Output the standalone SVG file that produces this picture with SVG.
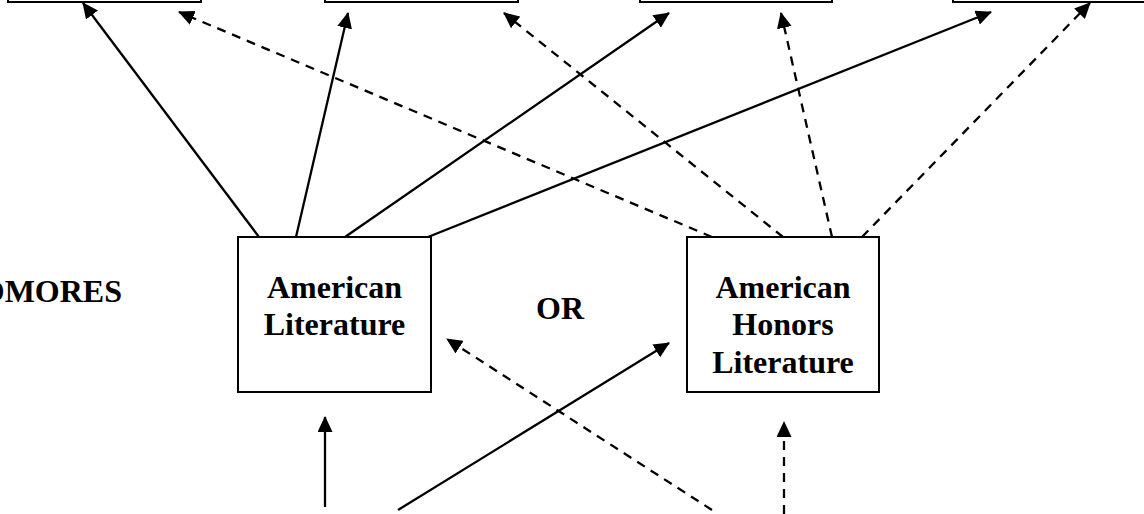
<svg xmlns="http://www.w3.org/2000/svg" width="1144" height="514" viewBox="0 0 1144 514">
<defs>
<marker id="ah" markerUnits="userSpaceOnUse" markerWidth="16" markerHeight="15" viewBox="0 0 16 15" refX="15" refY="7.5" orient="auto">
<path d="M0,0 L16,7.5 L0,15 z" fill="#000"/>
</marker>
</defs>
<style>
.box{fill:#fff;stroke:#000;stroke-width:2}
.t{font-family:"Liberation Serif","Times New Roman",serif;font-weight:bold;font-size:32px;fill:#000}
.c{text-anchor:middle}
.s{fill:none;stroke:#000;stroke-width:2.3;marker-end:url(#ah)}
.d{fill:none;stroke:#000;stroke-width:2.3;stroke-dasharray:9,7;marker-end:url(#ah)}
</style>
<rect width="1144" height="514" fill="#fff"/>
<g id="top1"><rect class="box" x="8" y="-40" width="193" height="42"/></g>
<g id="top2"><rect class="box" x="325" y="-40" width="193" height="42"/></g>
<g id="top3"><rect class="box" x="640" y="-40" width="192" height="42"/></g>
<g id="top4"><rect class="box" x="953" y="-40" width="200" height="42"/></g>
<g id="label-sophomores"><text class="t" x="122" y="302" text-anchor="end">SOPHOMORES</text></g>
<g id="label-or"><text class="t c" x="560" y="319">OR</text></g>
<g id="amlit"><rect class="box" x="238" y="237" width="193" height="155"/>
<text class="t c" x="334.5" y="298">American</text>
<text class="t c" x="334.5" y="335">Literature</text></g>
<g id="amhon"><rect class="box" x="687" y="237" width="192" height="155"/>
<text class="t c" x="783" y="298">American</text>
<text class="t c" x="783" y="335">Honors</text>
<text class="t c" x="783" y="373">Literature</text></g>
<g id="connectors">
<line class="s" x1="259" y1="237" x2="83" y2="3"/>
<line class="d" x1="712" y1="237" x2="179" y2="12"/>
<line class="s" x1="296" y1="237" x2="348" y2="13"/>
<line class="d" x1="783" y1="237" x2="504" y2="13"/>
<line class="s" x1="345" y1="237" x2="669" y2="13"/>
<line class="d" x1="832" y1="237" x2="781" y2="13"/>
<line class="s" x1="428" y1="237" x2="991" y2="12"/>
<line class="d" x1="862" y1="237" x2="1090" y2="3"/>
<line class="s" x1="325" y1="507" x2="325" y2="417"/>
<line class="s" x1="398" y1="510" x2="669" y2="343"/>
<line class="d" x1="712" y1="510" x2="447" y2="339"/>
<line class="d" x1="784" y1="514" x2="784" y2="422"/>
</g>
</svg>
